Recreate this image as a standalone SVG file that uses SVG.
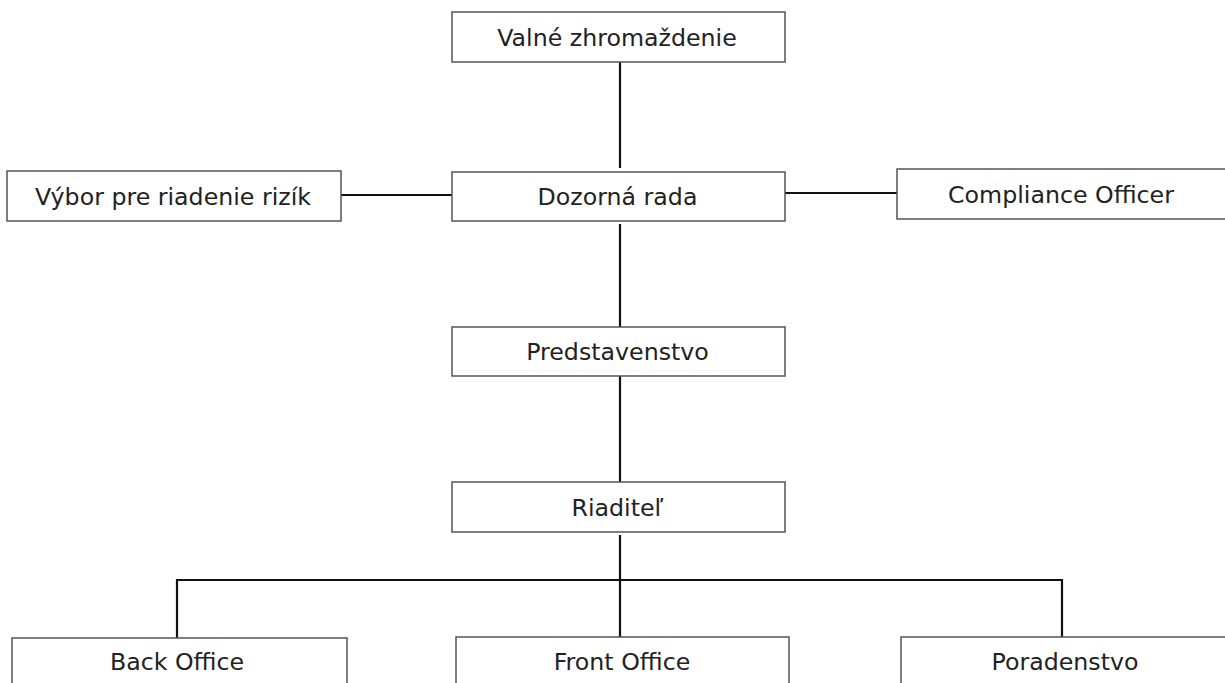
<svg xmlns="http://www.w3.org/2000/svg" width="1225" height="683" viewBox="0 0 1225 683">
<style>
.box{fill:#fff;stroke:#555;stroke-width:1.5}
.lbl{font-family:"DejaVu Sans",Verdana,sans-serif;font-size:23.7px;fill:#222;text-anchor:middle}
.con{stroke:#111;stroke-width:2.2;fill:none}
</style>
<rect width="1225" height="683" fill="#fff"/>
<g id="connectors">
<line class="con" x1="620" y1="62" x2="620" y2="168"/>
<line class="con" x1="341" y1="195" x2="452" y2="195"/>
<line class="con" x1="785" y1="193" x2="897" y2="193"/>
<line class="con" x1="620" y1="224" x2="620" y2="327"/>
<line class="con" x1="620" y1="376" x2="620" y2="482"/>
<line class="con" x1="620" y1="535" x2="620" y2="637"/>
<polyline class="con" points="177,638 177,580 1062,580 1062,637"/>
</g>
<g id="n1"><rect class="box" x="452" y="12" width="333" height="50"/><text class="lbl" x="617" y="45.5">Valné zhromaždenie</text></g>
<g id="n2"><rect class="box" x="452" y="172" width="333" height="49"/><text class="lbl" x="617.5" y="205">Dozorná rada</text></g>
<g id="n3"><rect class="box" x="7" y="171" width="334" height="50"/><text class="lbl" x="173" y="204.5">Výbor pre riadenie rizík</text></g>
<g id="n4"><rect class="box" x="897" y="169" width="340" height="50"/><text class="lbl" x="1061" y="202.5">Compliance Officer</text></g>
<g id="n5"><rect class="box" x="452" y="327" width="333" height="49"/><text class="lbl" x="617.5" y="360">Predstavenstvo</text></g>
<g id="n6"><rect class="box" x="452" y="482" width="333" height="50"/><text class="lbl" x="617.5" y="515.5">Riaditeľ</text></g>
<g id="n7"><rect class="box" x="12" y="638" width="335" height="60"/><text class="lbl" x="177" y="670">Back Office</text></g>
<g id="n8"><rect class="box" x="456" y="637" width="333" height="60"/><text class="lbl" x="622" y="670">Front Office</text></g>
<g id="n9"><rect class="box" x="901" y="637" width="340" height="60"/><text class="lbl" x="1065" y="670">Poradenstvo</text></g>
</svg>
